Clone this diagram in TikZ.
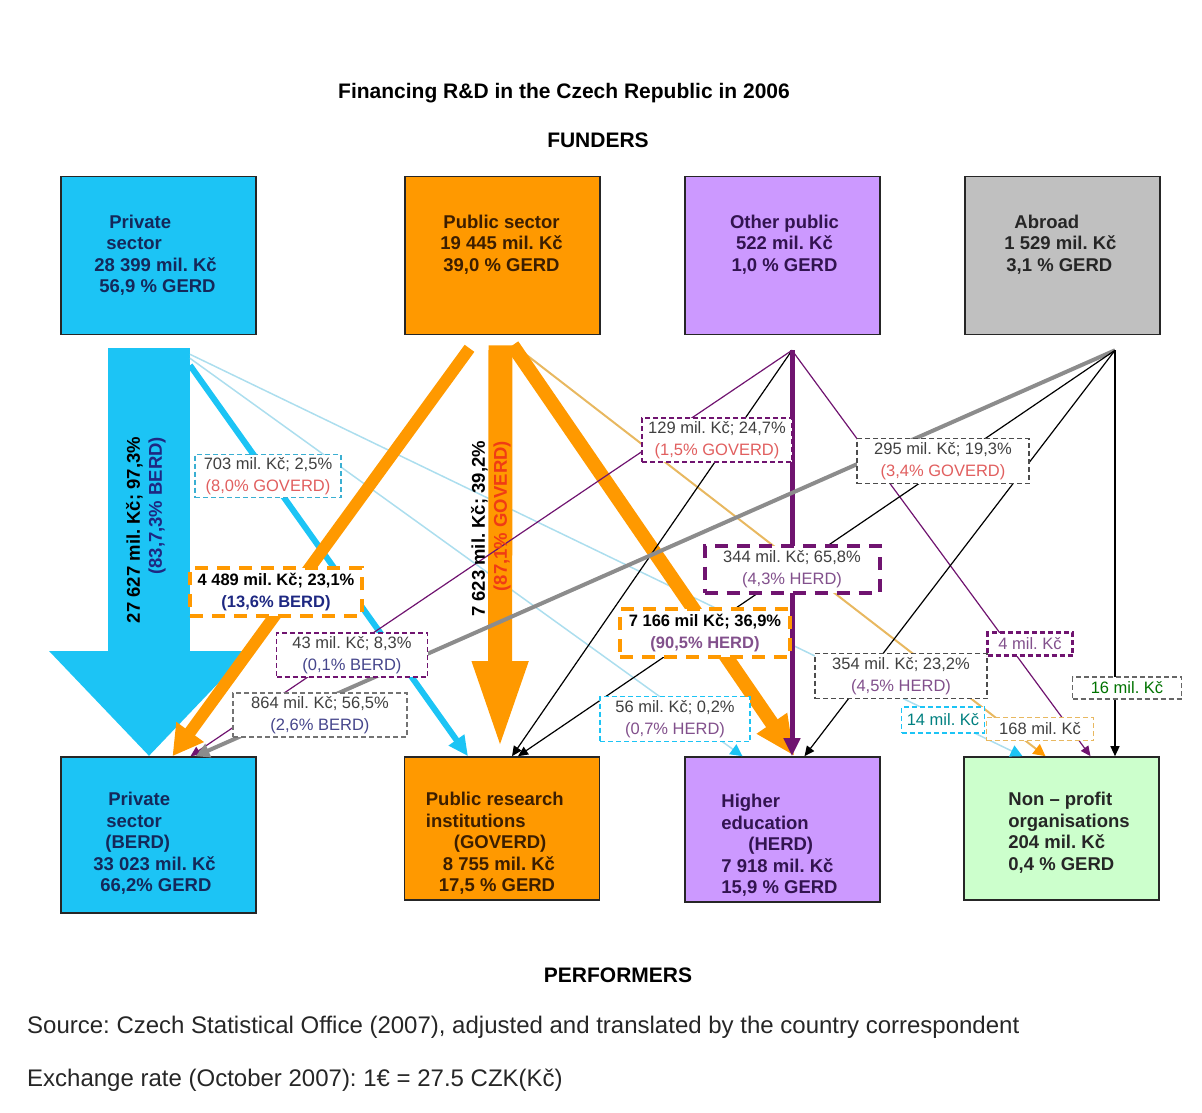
\documentclass[tikz,border=0pt]{standalone}
\usepackage{fontspec}
\setmainfont{Liberation Sans}
\usepackage{tikz}
\usetikzlibrary{arrows.meta,positioning}

\definecolor{cyanbox}{RGB}{28,196,245}
\definecolor{orangebox}{RGB}{255,153,0}
\definecolor{lavbox}{RGB}{204,153,255}
\definecolor{graybox}{RGB}{192,192,192}
\definecolor{greenbox}{RGB}{204,255,204}
\definecolor{purpline}{RGB}{112,20,112}
\definecolor{lightcyan}{RGB}{172,222,238}
\definecolor{tanline}{RGB}{232,184,96}
\definecolor{govred}{RGB}{225,95,95}
\definecolor{govorange}{RGB}{240,60,20}
\definecolor{berdblue}{RGB}{70,70,140}
\definecolor{berdnavy}{RGB}{30,40,130}
\definecolor{herdpurp}{RGB}{130,80,140}
\definecolor{labgray}{RGB}{64,64,64}
\definecolor{privtext}{RGB}{20,40,90}
\definecolor{pubtext}{RGB}{60,30,0}
\definecolor{othtext}{RGB}{50,20,80}

\frenchspacing
\begin{document}
\begin{tikzpicture}[x=1pt, y=-1pt,
  sbox/.style={draw=black!85, line width=1.6pt, minimum width=195pt, inner sep=0pt},
  btext/.style={font=\bfseries\fontsize{18.5}{21.5}\selectfont, inner sep=0pt},
  lab/.style={fill=white, draw, line width=1.3pt, dash pattern=on 5pt off 3pt, align=center,
    inner xsep=5pt, inner ysep=1pt, text=labgray, font=\fontsize{16.5}{22}\selectfont},
  fatlab/.style={lab, line width=4pt, dash pattern=on 13pt off 9pt},
  boldlab/.style={fatlab, text=black, font=\bfseries\fontsize{16.5}{22}\selectfont},
  thinflow/.style={line width=1.2pt, -{Triangle[width=9pt,length=10pt]}},
  arrlab/.style={rotate=90, align=right, inner sep=0pt, font=\bfseries\fontsize{18.5}{22}\selectfont}
]
\useasboundingbox (0,0) rectangle (1202,1113);

\node[font=\bfseries\fontsize{21}{24}\selectfont] (title) at (564,93) {Financing R\&D in the Czech Republic in 2006};
\node[font=\bfseries\fontsize{21}{24}\selectfont] (funders) at (598,140) {FUNDERS};
\node[font=\bfseries\fontsize{21}{24}\selectfont] (performers) at (618,975) {PERFORMERS};

\node[sbox, fill=cyanbox, minimum height=158pt] (fPriv) at (158.5,255.5) {};
\node[sbox, fill=orangebox, minimum height=158pt] (fPub) at (502.5,255.5) {};
\node[sbox, fill=lavbox, minimum height=158pt] (fOth) at (782.5,255.5) {};
\node[sbox, fill=graybox, minimum height=158pt] (fAbr) at (1062.5,255.5) {};

\node[sbox, fill=cyanbox, minimum height=156pt] (pPriv) at (158.5,835) {};
\node[sbox, fill=orangebox, minimum height=143pt] (pPub) at (502,828.5) {};
\node[sbox, fill=lavbox, minimum height=145pt] (pHE) at (782.5,829.5) {};
\node[sbox, fill=greenbox, minimum height=143pt] (pNP) at (1061.5,828.5) {};

\node[btext, text=privtext, align=left, anchor=north west] (fPrivT) at ([xshift=34pt,yshift=-39pt]fPriv.north west)
  {\hspace*{15pt}Private\\\hspace*{12pt}sector\\28 399 mil. Kč\\\hspace*{5pt}56,9 \% GERD};
\node[btext, text=pubtext, align=center, anchor=north] (fPubT) at ([xshift=-1pt,yshift=-39pt]fPub.north)
  {Public sector\\19 445 mil. Kč\\39,0 \% GERD};
\node[btext, text=othtext, align=center, anchor=north] (fOthT) at ([xshift=2pt,yshift=-39pt]fOth.north)
  {Other public\\522 mil. Kč\\1,0 \% GERD};
\node[btext, text=black!85, align=left, anchor=north west] (fAbrT) at ([xshift=40pt,yshift=-39pt]fAbr.north west)
  {\hspace*{10pt}Abroad\\1 529 mil. Kč\\\hspace*{2pt}3,1 \% GERD};

\node[btext, text=privtext, align=left, anchor=north west] (pPrivT) at ([xshift=33pt,yshift=-36pt]pPriv.north west)
  {\hspace*{15pt}Private\\\hspace*{13pt}sector\\\hspace*{12pt}(BERD)\\33 023 mil. Kč\\\hspace*{7pt}66,2\% GERD};
\node[btext, text=pubtext, align=left, anchor=north west] (pPubT) at ([xshift=22pt,yshift=-36pt]pPub.north west)
  {Public research\\institutions\\\hspace*{28pt}(GOVERD)\\\hspace*{17pt}8 755 mil. Kč\\\hspace*{13pt}17,5 \% GERD};
\node[btext, text=othtext, align=left, anchor=north west] (pHET) at ([xshift=37pt,yshift=-38pt]pHE.north west)
  {Higher\\education\\\hspace*{27pt}(HERD)\\7 918 mil. Kč\\15,9 \% GERD};
\node[btext, text=black!85, align=left, anchor=north west] (pNPT) at ([xshift=45pt,yshift=-36pt]pNP.north west)
  {Non – profit\\organisations\\204 mil. Kč\\0,4 \% GERD};

\draw[cyanbox, line width=82pt, -{Triangle[width=193pt,length=105pt]}] ([xshift=-9.5pt,yshift=-13pt]fPriv.south) -- ([xshift=-9.5pt]pPriv.north);
\draw[lightcyan, line width=1.5pt, -{Triangle[color=cyanbox,width=12pt,length=12pt]}] ([xshift=31.5pt,yshift=-19pt]fPriv.south) -- ([xshift=-39pt]pNP.north);
\draw[lightcyan, line width=1.5pt, -{Triangle[color=cyanbox,width=12pt,length=12pt]}] ([xshift=31.5pt,yshift=-23pt]fPriv.south) -- ([xshift=-40pt]pHE.north);
\draw[cyanbox, line width=6pt, -{Triangle[width=18pt,length=20pt]}] ([xshift=31.5pt,yshift=-30pt]fPriv.south) -- ([xshift=-34pt]pPub.north);

\draw[tanline, line width=2pt, -{Triangle[color=orangebox,width=12pt,length=12pt]}] ([xshift=18pt,yshift=-15pt]fPub.south) -- ([xshift=-16pt]pNP.north);
\draw[orangebox, line width=12pt, -{Triangle[width=32pt,length=30pt]}] ([xshift=-33pt,yshift=-13pt]fPub.south) -- ([xshift=14pt]pPriv.north);
\draw[orangebox, line width=14pt, -{Triangle[width=34pt,length=40pt]}] ([xshift=10pt,yshift=-10pt]fPub.south) -- ([xshift=12pt]pHE.north);
\draw[orangebox, line width=24pt, -{Triangle[width=48pt,length=95pt]}] ([xshift=-2pt,yshift=-10pt]fPub.south) -- ([xshift=-2pt]pPub.north);

\coordinate (othTop) at ([xshift=9.5pt,yshift=-15pt]fOth.south);
\draw[purpline, thinflow] (othTop) -- ([xshift=32pt]pPriv.north);
\draw[black, thinflow] (othTop) -- ([xshift=10pt]pPub.north);
\draw[purpline, thinflow] (othTop) -- ([xshift=29pt]pNP.north);
\draw[purpline, line width=5pt, -{Triangle[width=16pt,length=18pt]}] (othTop) -- ([xshift=9.5pt]pHE.north);

\coordinate (abrTop) at ([xshift=52.5pt,yshift=-15pt]fAbr.south);
\draw[black!45, line width=4pt, -{Triangle[width=14pt,length=14pt]}] (abrTop) -- ([xshift=37pt]pPriv.north);
\draw[black, thinflow] (abrTop) -- ([xshift=16pt]pPub.north);
\draw[black, thinflow] (abrTop) -- ([xshift=22pt]pHE.north);
\draw[black, thinflow] (abrTop) -- ([xshift=53.5pt]pNP.north);

\node[arrlab] (privFlowT) at (146,530) {27 627 mil. Kč; 97,3\%\\\textcolor{berdnavy}{(83,7,3\% BERD)}};
\node[arrlab] (pubFlowT) at (491,529) {7 623 mil. Kč; 39,2\%\\\textcolor{govorange}{(87,1\% GOVERD)}};

\node[lab, draw=cyanbox!70!gray, minimum width=146pt, minimum height=43pt] (l703) at (268,476) {703 mil. Kč; 2,5\%\\\textcolor{govred}{(8,0\% GOVERD)}};
\node[lab, draw=purpline, minimum width=150pt, minimum height=44pt] (l129) at (717,440) {129 mil. Kč; 24,7\%\\\textcolor{govred}{(1,5\% GOVERD)}};
\node[lab, draw=black!70, minimum width=172pt, minimum height=45pt] (l295) at (943,461) {295 mil. Kč; 19,3\%\\\textcolor{govred}{(3,4\% GOVERD)}};
\node[boldlab, draw=orangebox, minimum width=172pt, minimum height=48pt] (l4489) at (276,592) {4 489 mil. Kč; 23,1\%\\\textcolor{berdnavy}{(13,6\% BERD)}};
\node[fatlab, draw=purpline, minimum width=175pt, minimum height=47pt] (l344) at (792,569) {344 mil. Kč; 65,8\%\\\textcolor{herdpurp}{(4,3\% HERD)}};
\node[boldlab, draw=orangebox, minimum width=170pt, minimum height=48pt] (l7166) at (705,633) {7 166 mil Kč; 36,9\%\\\textcolor{herdpurp}{(90,5\% HERD)}};
\node[lab, draw=purpline, minimum width=151pt, minimum height=44pt] (l43) at (352,655) {43 mil. Kč; 8,3\%\\\textcolor{berdblue}{(0,1\% BERD)}};
\node[lab, draw=black!55, minimum width=174pt, minimum height=44pt] (l864) at (320,715) {864 mil. Kč; 56,5\%\\\textcolor{berdblue}{(2,6\% BERD)}};
\node[lab, draw=cyanbox, minimum width=150pt, minimum height=45pt] (l56) at (675,719) {56 mil. Kč; 0,2\%\\\textcolor{herdpurp}{(0,7\% HERD)}};
\node[lab, draw=black!70, minimum width=172pt, minimum height=45pt] (l354) at (901,676) {354 mil. Kč; 23,2\%\\\textcolor{herdpurp}{(4,5\% HERD)}};
\node[lab, draw=purpline, line width=2.5pt, minimum width=85pt, minimum height=23pt] (l4) at (1030,644) {\textcolor{herdpurp}{4 mil. Kč}};
\node[lab, draw=black!60, minimum width=109pt, minimum height=22pt] (l16) at (1127,688) {\textcolor{green!45!black}{16 mil. Kč}};
\node[lab, draw=cyanbox, minimum width=82pt, minimum height=26pt] (l14) at (943,720) {\textcolor{teal}{14 mil. Kč}};
\node[lab, draw=tanline, minimum width=107pt, minimum height=23pt] (l168) at (1040,729) {168 mil. Kč};

\node[anchor=west, inner sep=0pt, font=\fontsize{24}{27}\selectfont, text=black!85] (source) at (27,1027)
  {Source: Czech Statistical Office (2007), adjusted and translated by the country correspondent};
\node[anchor=west, inner sep=0pt, font=\fontsize{24}{27}\selectfont, text=black!85] (rate) at (27,1080)
  {Exchange rate (October 2007): 1€ = 27.5 CZK(Kč)};
\end{tikzpicture}
\end{document}
